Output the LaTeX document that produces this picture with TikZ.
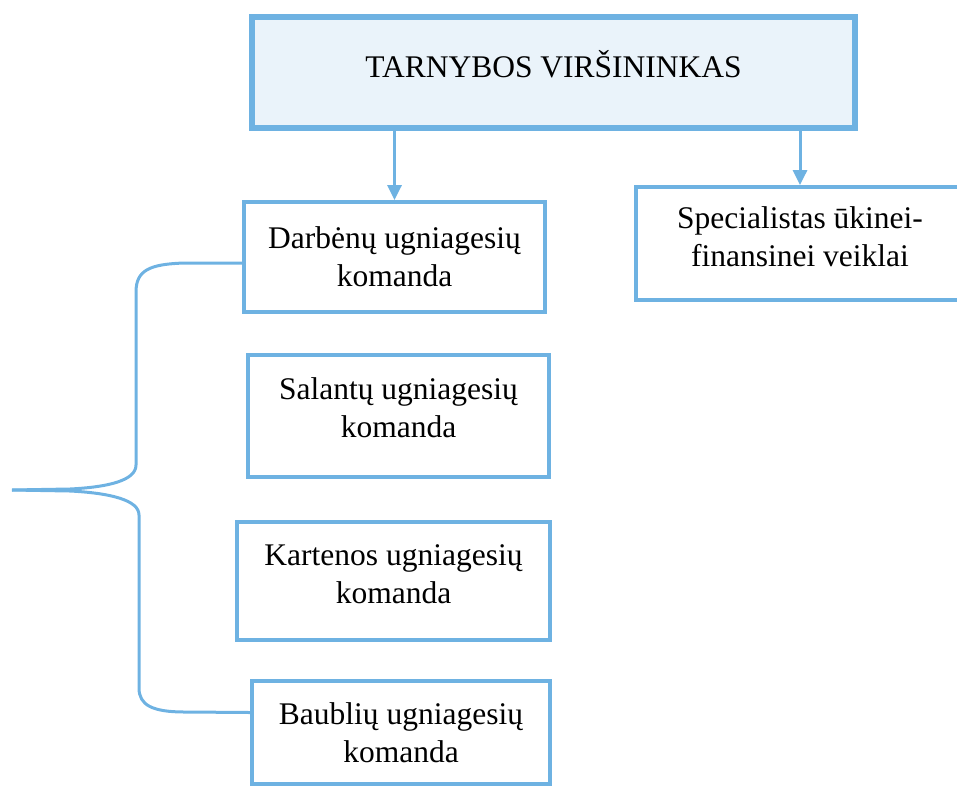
\documentclass[tikz,border=0pt]{standalone}
\usepackage{fontspec}
\setmainfont{Liberation Serif}
\usetikzlibrary{arrows.meta}
\definecolor{fblue}{RGB}{110,178,226}
\definecolor{ffill}{RGB}{234,243,250}

\begin{document}
\begin{tikzpicture}[
        x=1pt, y=-1pt,
        every node/.style={font=\fontsize{31.5}{38}\selectfont, align=center, inner sep=0pt},
        box/.style={draw=fblue, line width=3.8pt, fill=white},
        arrow/.style={draw=fblue, line width=3pt, -{Triangle[width=14pt,length=15pt]}},
        brace/.style={draw=fblue, line width=3pt, line join=round}]
        
        \useasboundingbox (0,0) rectangle (957,787);
        
        \node[box, line width=6pt, fill=ffill, minimum width=603pt, minimum height=111pt, text depth=17pt] (V) at (553.5,72.5) {TARNYBOS VIRŠININKAS};
        \node[box, minimum width=301pt, minimum height=110pt] (D) at (394.5,257) {Darbėnų ugniagesių\\komanda};
        \node[box, minimum width=301pt, minimum height=122pt, text depth=16pt] (S) at (398.5,416) {Salantų ugniagesių\\komanda};
        \node[box, minimum width=313pt, minimum height=118pt, text depth=14pt] (K) at (393.5,581) {Kartenos ugniagesių\\komanda};
        \node[box, minimum width=298pt, minimum height=103pt] (B) at (401,732.5) {Baublių ugniagesių\\komanda};
        \node[box, minimum width=328pt, minimum height=113pt, text depth=14pt] (Spec) at (800,243.5) {Specialistas ūkinei-\\finansinei veiklai};
        \coordinate (tip) at (12,490);
        
        \draw[arrow] (D.north |- V.south) -- (D.north);
        \draw[arrow] (Spec.north |- V.south) -- (Spec.north);
        \draw[brace] ([yshift=-6pt]D.west) -- (185,263) .. controls (150,264) and (136,270) .. (136,292) -- (136,465) .. controls (136,480) and (110,487) .. (70,489) -- (tip);
        \draw[brace] (tip) -- (70,491) .. controls (110,493) and (139,500) .. (139,515) -- (139,688) .. controls (139,705) and (152,712) .. (185,712) -- ([yshift=20pt]B.west);
        
    \end{tikzpicture}
\end{document}
